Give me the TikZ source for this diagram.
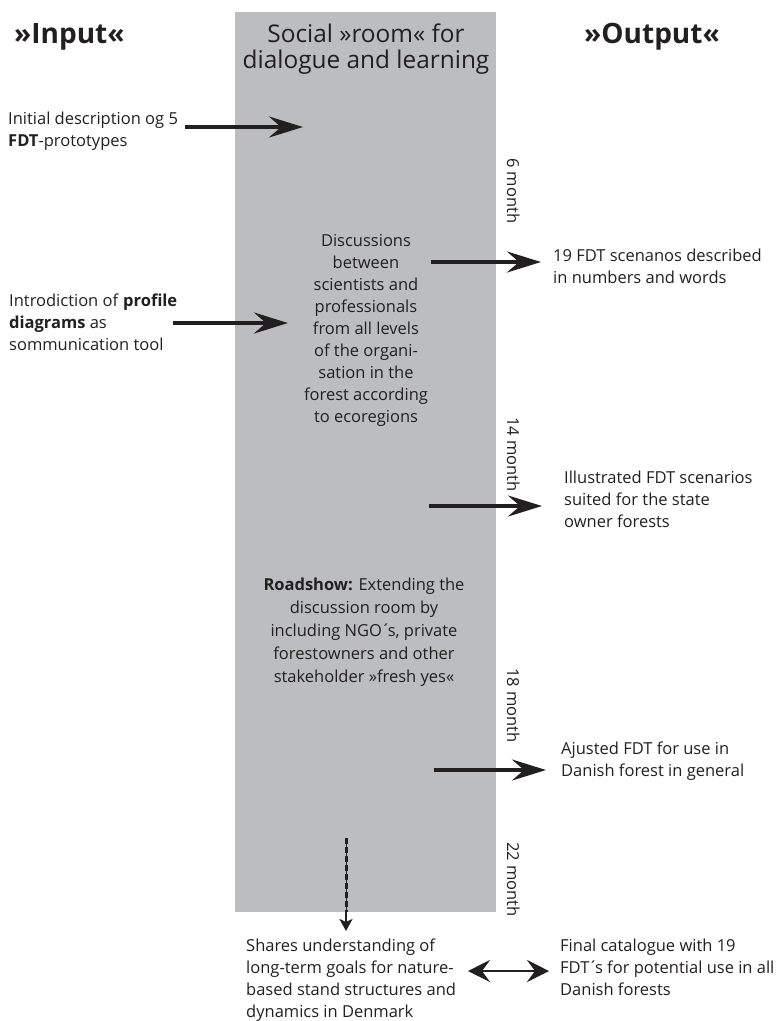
\documentclass[tikz,border=0pt]{standalone}
\usepackage{fontspec}
\setmainfont{Open Sans}
\usetikzlibrary{arrows.meta}
\definecolor{roomgray}{RGB}{188,189,192}
\definecolor{ink}{RGB}{35,31,32}
\newcommand\tightacute{\kern-1pt´\kern-2.8pt}
\tikzset{
  body/.style={font=\fontsize{16.5}{22}\selectfont, text=ink, inner sep=0pt},
  titletxt/.style={font=\fontsize{28}{30}\selectfont\bfseries, text=ink, inner sep=0pt},
  roomtxt/.style={font=\fontsize{24.4}{26}\selectfont, text=ink, inner sep=0pt, align=center},
  monthtxt/.style={body, rotate=-90, anchor=base west},
  bigarr/.style={draw=ink, line width=3.5pt, -{Stealth[length=34pt,width=21pt,inset=12pt]}},
  dblarr/.style={draw=ink, line width=2.5pt, {Stealth[length=22pt,width=22pt,inset=8pt]}-{Stealth[length=22pt,width=22pt,inset=8pt]}},
  smallarr/.style={draw=ink, line width=2.4pt, -{Stealth[length=12pt,width=13pt,inset=3pt]}},
}
\begin{document}
\begin{tikzpicture}[x=1pt,y=-1pt]
\useasboundingbox (0,0) rectangle (781,1021);
% social room
\node[fill=roomgray, inner sep=0pt, minimum width=261pt, minimum height=900pt, anchor=north west] (room) at (235,12) {};
% (anchor=base of a multi-line node is the baseline of its last line)
\node[roomtxt, anchor=base] (roomtitle) at (366,68) {Social »room« for\\dialogue and learning};
% titles
\node[titletxt, anchor=base west] (inp) at (14,43) {»Input«};
\node[titletxt, anchor=base west] (outp) at (584,43) {»Output«};
% inputs
\node[body, align=left, anchor=base west] (initial) at (8,146) {Initial description og 5\\\textbf{FDT}-prototypes};
\node[body, align=left, anchor=base west] (intro) at (9,350) {Introdiction of \textbf{profile}\\\textbf{diagrams} as\\sommunication tool};
% room contents
\node[body, align=center, anchor=base] (disc) at (366,422) {Discussions\\between\\scientists and\\professionals\\from all levels\\of the organi-\\sation in the\\forest according\\to ecoregions};
\node[body, font=\fontsize{16.5}{23}\selectfont, align=center, anchor=base] (road) at (364,682) {\textbf{Roadshow:} Extending the\\discussion room by\\including NGO\tightacute s, private\\forestowners and other\\stakeholder »fresh yes«};
% months
\node[monthtxt] (m6) at (507,158) {6 month};
\node[monthtxt] (m14) at (507,417) {14 month};
\node[monthtxt] (m18) at (507,668) {18 month};
\node[monthtxt] (m22) at (507,842) {22 month};
% outputs
\node[body, align=left, anchor=base west] (out19) at (553,283) {19 FDT scenanos described\\in numbers and words};
\node[body, align=left, anchor=base west] (illus) at (564,527) {Illustrated FDT scenarios\\suited for the state\\owner forests};
\node[body, align=left, anchor=base west] (ajust) at (561,776) {Ajusted FDT for use in\\Danish forest in general};
\node[body, align=left, anchor=base west] (share) at (246,1017) {Shares understanding of\\long-term goals for nature-\\based stand structures and\\dynamics in Denmark};
\node[body, align=left, anchor=base west] (final) at (560,995) {Final catalogue with 19\\FDT\tightacute s for potential use in all\\Danish forests};
% arrow end points
\coordinate (a1s) at (185,127); \coordinate (a1e) at (303,127);
\coordinate (a2s) at (173,323); \coordinate (a2e) at (288,323);
\coordinate (a3s) at (431,262); \coordinate (a3e) at (541,262);
\coordinate (a4s) at (429,506); \coordinate (a4e) at (542,506);
\coordinate (a5s) at (434,770); \coordinate (a5e) at (546,770);
\coordinate (dTop) at (346,841); \coordinate (dBot) at (346,912); \coordinate (dTip) at (346,931);
\coordinate (bL) at (468,971); \coordinate (bR) at (549,971);
% arrows
\draw[bigarr] (a1s) -- (a1e);
\draw[bigarr] (a2s) -- (a2e);
\draw[bigarr] (a3s) -- (a3e);
\draw[bigarr] (a4s) -- (a4e);
\draw[bigarr] (a5s) -- (a5e);
\draw[draw=ink, line width=1pt] (dTop) -- (dBot);
\draw[draw=ink, line width=3pt, dash pattern=on 6pt off 3pt] ([yshift=3pt]dTop) -- (dBot);
\draw[smallarr] (dBot) -- (dTip);
\draw[dblarr] (bL) -- (bR);
\end{tikzpicture}
\end{document}
